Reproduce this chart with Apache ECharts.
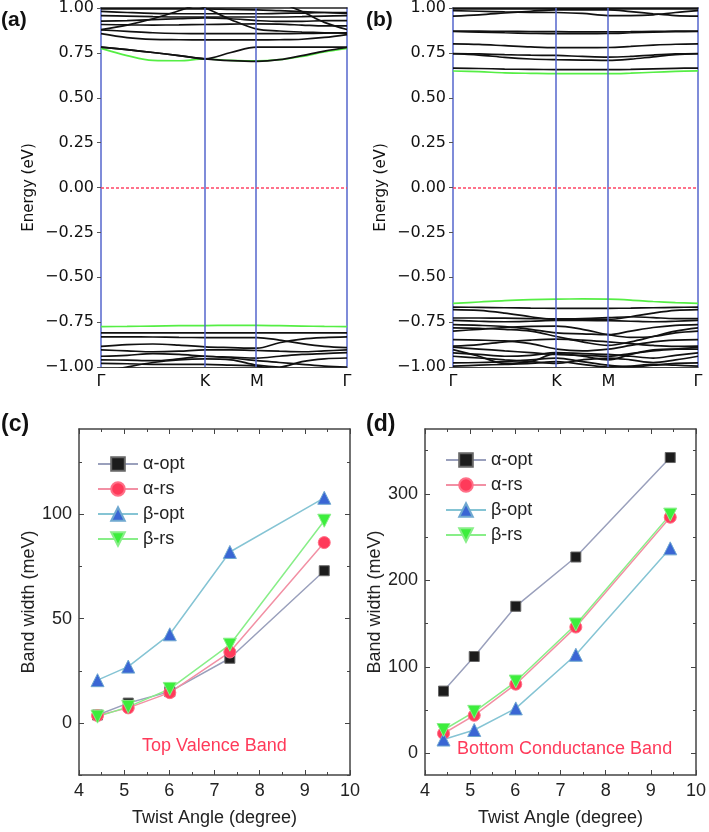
<!DOCTYPE html>
<html><head><meta charset="utf-8">
<script src="https://cdn.jsdelivr.net/npm/echarts@6/dist/echarts.min.js"></script>
<style>html,body{margin:0;padding:0;background:#fff}#c{width:709px;height:832px}</style>
</head><body><div id="c"></div>
<script>
// ---- k-path (fraction of Γ-K-M-Γ path) ----
const kPath = [0, 0.106, 0.211, 0.317, 0.4226, 0.528, 0.634, 0.725, 0.817, 0.908, 1.0];
const kTicks = [0, 0.4226, 0.634, 1];
const kLabels = ['Γ', 'K', 'M', 'Γ'];

// ---- panel (a) bands (eV) ----
const aGreenCB = [0.775, 0.735, 0.708, 0.706, 0.716, 0.708, 0.705, 0.712, 0.73, 0.755, 0.775];
const aGreenVB = [-0.775, -0.774, -0.772, -0.770, -0.769, -0.768, -0.768, -0.770, -0.772, -0.774, -0.775];
const aCB1 = [0.782, 0.768, 0.752, 0.735, 0.717, 0.707, 0.703, 0.712, 0.735, 0.76, 0.78];
const aCB2 = [0.782, 0.768, 0.752, 0.735, 0.717, 0.752, 0.782, 0.782, 0.782, 0.782, 0.782];
const aCB3 = [0.857, 0.835, 0.825, 0.823, 0.822, 0.822, 0.822, 0.823, 0.826, 0.836, 0.852];
const aCB4 = [0.878, 0.87, 0.862, 0.858, 0.857, 0.857, 0.857, 0.857, 0.858, 0.86, 0.862];
const aCB5 = [0.88, 0.905, 0.94, 0.985, 1.03, 1.05, 1.05, 1.05, 1.05, 1.05, 1.05];
const aCB6 = [1.05, 1.05, 1.05, 1.04, 1.0, 0.935, 0.882, 0.872, 0.866, 0.862, 0.86];
const aCB7 = [1.05, 1.05, 1.05, 1.05, 1.05, 1.05, 1.05, 1.03, 0.98, 0.92, 0.88];
const aCB8 = [0.908, 0.906, 0.905, 0.906, 0.908, 0.91, 0.912, 0.91, 0.905, 0.9, 0.9];
const aCB9 = [0.927, 0.93, 0.935, 0.94, 0.945, 0.94, 0.93, 0.925, 0.925, 0.93, 0.93];
const aCB10 = [0.958, 0.955, 0.952, 0.95, 0.95, 0.95, 0.95, 0.95, 0.952, 0.955, 0.958];
const aCB11 = [0.981, 0.975, 0.97, 0.968, 0.968, 0.968, 0.968, 0.97, 0.972, 0.975, 0.975];
const aCB12 = [0.995, 0.995, 0.995, 0.995, 0.995, 0.992, 0.99, 0.985, 0.98, 0.975, 0.97];
const aVB1 = [-0.81, -0.81, -0.81, -0.81, -0.81, -0.81, -0.81, -0.81, -0.81, -0.81, -0.81];
const aVB2 = [-0.832, -0.832, -0.833, -0.835, -0.836, -0.836, -0.836, -0.85, -0.87, -0.885, -0.892];
const aVB3 = [-0.885, -0.875, -0.872, -0.878, -0.888, -0.892, -0.895, -0.865, -0.845, -0.836, -0.832];
const aVB4 = [-0.905, -0.91, -0.915, -0.912, -0.905, -0.905, -0.908, -0.912, -0.915, -0.91, -0.905];
const aVB5 = [-0.94, -0.935, -0.925, -0.93, -0.94, -0.945, -0.95, -0.94, -0.93, -0.925, -0.92];
const aVB6 = [-0.96, -0.962, -0.965, -0.955, -0.94, -0.95, -0.965, -0.975, -0.985, -0.995, -1.0];
const aVB7 = [-1.03, -1.0, -0.975, -0.96, -0.955, -0.96, -0.99, -1.0, -0.97, -0.955, -0.95];
const aVB8 = [-0.98, -0.982, -0.985, -0.985, -0.985, -0.99, -0.995, -1.02, -1.04, -1.05, -1.05];

// ---- panel (b) bands (eV) ----
const bGreenCB = [0.649, 0.645, 0.639, 0.636, 0.634, 0.634, 0.634, 0.637, 0.642, 0.647, 0.65];
const bGreenVB = [-0.645, -0.638, -0.63, -0.625, -0.622, -0.621, -0.622, -0.627, -0.635, -0.641, -0.645];
const bCB1 = [0.665, 0.663, 0.66, 0.658, 0.657, 0.657, 0.657, 0.658, 0.661, 0.664, 0.665];
const bCB2 = [0.745, 0.738, 0.725, 0.716, 0.712, 0.71, 0.708, 0.715, 0.728, 0.74, 0.745];
const bCB3 = [0.746, 0.744, 0.74, 0.737, 0.736, 0.73, 0.726, 0.73, 0.738, 0.744, 0.746];
const bCB4 = [0.80, 0.797, 0.79, 0.783, 0.779, 0.779, 0.78, 0.786, 0.793, 0.798, 0.80];
const bCB5 = [0.869, 0.866, 0.862, 0.859, 0.857, 0.857, 0.858, 0.862, 0.866, 0.868, 0.869];
const bCB6 = [0.872, 0.871, 0.87, 0.869, 0.868, 0.867, 0.867, 0.868, 0.87, 0.871, 0.872];
const bCB7 = [0.955, 0.962, 0.972, 0.982, 0.99, 0.99, 0.99, 0.98, 0.968, 0.958, 0.955];
const bCB8 = [0.985, 0.982, 0.978, 0.976, 0.975, 0.97, 0.958, 0.958, 0.962, 0.975, 0.985];
const bCB9 = [0.995, 0.995, 0.995, 0.995, 0.995, 0.995, 0.995, 0.995, 0.995, 0.995, 0.995];
const bVB1 = [-0.666, -0.668, -0.67, -0.672, -0.673, -0.673, -0.673, -0.672, -0.67, -0.668, -0.666];
const bVB2 = [-0.68, -0.685, -0.7, -0.72, -0.735, -0.735, -0.735, -0.72, -0.7, -0.685, -0.68];
const bVB3 = [-0.727, -0.727, -0.728, -0.73, -0.732, -0.73, -0.725, -0.72, -0.725, -0.73, -0.73];
const bVB4 = [-0.74, -0.745, -0.748, -0.745, -0.74, -0.74, -0.742, -0.745, -0.748, -0.745, -0.74];
const bVB5 = [-0.80, -0.79, -0.78, -0.774, -0.772, -0.79, -0.82, -0.835, -0.83, -0.81, -0.80];
const bVB6 = [-0.764, -0.768, -0.775, -0.79, -0.81, -0.815, -0.82, -0.8, -0.78, -0.768, -0.764];
const bVB7 = [-0.782, -0.785, -0.79, -0.8, -0.83, -0.86, -0.88, -0.86, -0.83, -0.8, -0.782];
const bVB8 = [-0.847, -0.85, -0.855, -0.87, -0.9, -0.91, -0.9, -0.88, -0.86, -0.85, -0.847];
const bVB9 = [-0.884, -0.875, -0.86, -0.85, -0.845, -0.85, -0.86, -0.87, -0.88, -0.885, -0.884];
const bVB10 = [-0.903, -0.94, -0.98, -0.97, -0.925, -0.94, -0.96, -0.93, -0.905, -0.9, -0.9];
const bVB11 = [-0.921, -0.93, -0.94, -0.935, -0.92, -0.925, -0.93, -0.94, -0.95, -0.935, -0.921];
const bVB12 = [-0.94, -0.95, -0.96, -0.97, -0.98, -0.96, -0.95, -0.96, -0.975, -0.96, -0.94];
const bVB13 = [-0.977, -0.975, -0.97, -0.96, -0.95, -0.97, -0.99, -1.0, -0.99, -0.98, -0.977];
const bVB14 = [-0.995, -0.99, -0.985, -0.98, -0.97, -0.985, -1.0, -0.995, -0.985, -0.99, -0.995];
const bVB15 = [-0.89, -0.9, -0.91, -0.92, -0.93, -0.935, -0.94, -0.925, -0.91, -0.9, -0.89];

// ---- panels (c),(d): band width vs twist angle ----
const twistAngle = [4.41, 5.09, 6.01, 7.34, 9.43];
const seriesNames = ['α-opt', 'α-rs', 'β-opt', 'β-rs'];
const tvbAlphaOpt = [3.8, 9.5, 15, 31, 73];
const tvbAlphaRs = [3.5, 7.2, 14.5, 34, 86.5];
const tvbBetaOpt = [20.5, 27, 42.5, 82, 108];
const tvbBetaRs = [3, 7.7, 16.3, 37.5, 97];
const bcbAlphaOpt = [72, 112, 170, 227, 342];
const bcbAlphaRs = [23, 44, 80, 146, 273];
const bcbBetaOpt = [16, 27, 52, 114, 237];
const bcbBetaRs = [27, 48, 83, 149, 276];
const cMajorTicks = [0, 50, 100];
const cMinorTicks = [-25, 25, 75, 125];
const dMajorTicks = [0, 100, 200, 300];
const dMinorTicks = [50, 150, 250, 350];

const chart = echarts.init(document.getElementById('c'));
const FONT_A = 'DejaVu Sans';
const FONT_C = 'Liberation Sans';
const BLUE = '#5566cc';

function eFmt(v) { return (v < 0 ? '\u2212' : '') + Math.abs(v).toFixed(2); }
function kFmt(v) { const i = kTicks.findIndex(t => Math.abs(t - v) < 1e-6); return i >= 0 ? kLabels[i] : ''; }

function bandXAxes(grid) {
  return [
    { type: 'value', gridIndex: grid, min: 0, max: 1, position: 'bottom',
      axisLine: { onZero: false, lineStyle: { color: '#444', width: 1.2 } },
      axisTick: { show: false }, splitLine: { show: false },
      axisLabel: { customValues: kTicks, formatter: kFmt, showMinLabel: true, showMaxLabel: true,
        margin: 7, fontSize: 16, color: '#111', fontFamily: FONT_A } },
    { type: 'value', gridIndex: grid, min: 0, max: 1, position: 'top',
      axisLine: { onZero: false, lineStyle: { color: '#222', width: 1.5 } },
      axisTick: { show: false }, axisLabel: { show: false }, splitLine: { show: false } }
  ];
}
function bandYAxes(grid) {
  return [
    { type: 'value', gridIndex: grid, min: -1, max: 1, interval: 0.25, position: 'left',
      name: 'Energy (eV)', nameLocation: 'middle', nameGap: 64,
      nameTextStyle: { fontSize: 15, color: '#111', fontFamily: FONT_A },
      axisLine: { show: true, onZero: false, lineStyle: { color: BLUE, width: 1.5 } },
      axisTick: { show: true, inside: false, length: 4, lineStyle: { color: '#555' } },
      splitLine: { show: false },
      axisLabel: { formatter: eFmt, margin: 7, fontSize: 16, color: '#111', fontFamily: FONT_A } },
    { type: 'value', gridIndex: grid, min: -1, max: 1, position: 'right',
      axisLine: { show: true, onZero: false, lineStyle: { color: BLUE, width: 1.5 } },
      axisTick: { show: false }, axisLabel: { show: false }, splitLine: { show: false } }
  ];
}
function bandSeries(arr, xi, yi, color, z) {
  return { type: 'line', xAxisIndex: xi, yAxisIndex: yi, data: kPath.map((k, i) => [k, arr[i]]),
    smooth: 0.35, showSymbol: false, silent: true, z: z || 2,
    lineStyle: { color: color || '#111', width: 1.7 } };
}
function guideSeries(xi, yi) {
  return { type: 'line', xAxisIndex: xi, yAxisIndex: yi, data: [], silent: true, z: 4,
    markLine: { silent: true, symbol: 'none', label: { show: false }, animation: false,
      data: [
        { xAxis: kTicks[1], lineStyle: { color: BLUE, width: 1.5, type: 'solid' } },
        { xAxis: kTicks[2], lineStyle: { color: BLUE, width: 1.5, type: 'solid' } },
        { yAxis: 0, lineStyle: { color: '#ff4466', width: 1.5, type: [3, 2] } }
      ] } };
}

function lineXAxes(grid) {
  const common = { type: 'value', gridIndex: grid, min: 4, max: 10, interval: 1, splitLine: { show: false },
    axisLine: { onZero: false, lineStyle: { color: '#444', width: 1.5 } },
    axisTick: { inside: true, length: 5, lineStyle: { color: '#444' } },
    minorTick: { show: true, splitNumber: 2, length: 3, lineStyle: { color: '#444' } } };
  return [
    Object.assign({}, common, { position: 'bottom', name: 'Twist Angle (degree)', nameLocation: 'middle', nameGap: 34,
      nameTextStyle: { fontSize: 18, color: '#222', fontFamily: FONT_C },
      axisLabel: { margin: 7, fontSize: 18, color: '#222', fontFamily: FONT_C } }),
    Object.assign({}, common, { position: 'top', axisLabel: { show: false } })
  ];
}
function lineYAxes(grid, min, max, major, minor, gap) {
  const base = { type: 'value', gridIndex: grid, min: min, max: max, splitLine: { show: false } };
  return [
    Object.assign({}, base, { position: 'left', name: 'Band width (meV)', nameLocation: 'middle', nameGap: gap,
      nameTextStyle: { fontSize: 18, color: '#222', fontFamily: FONT_C },
      axisLine: { show: true, onZero: false, lineStyle: { color: '#444', width: 1.5 } },
      axisTick: { show: true, inside: true, length: 5, customValues: major, lineStyle: { color: '#444' } },
      axisLabel: { customValues: major, margin: 7, fontSize: 18, color: '#222', fontFamily: FONT_C } }),
    Object.assign({}, base, { position: 'left',
      axisLine: { show: false, onZero: false }, axisLabel: { show: false },
      axisTick: { show: true, inside: true, length: 3, customValues: minor, lineStyle: { color: '#444' } } }),
    Object.assign({}, base, { position: 'right',
      axisLine: { show: true, onZero: false, lineStyle: { color: '#444', width: 1.5 } }, axisLabel: { show: false },
      axisTick: { show: true, inside: true, length: 5, customValues: major, lineStyle: { color: '#444' } } }),
    Object.assign({}, base, { position: 'right',
      axisLine: { show: false, onZero: false }, axisLabel: { show: false },
      axisTick: { show: true, inside: true, length: 3, customValues: minor, lineStyle: { color: '#444' } } })
  ];
}
const lineStyles = [
  { line: '#9aa0bc', fill: '#1c1c1c', border: '#666', symbol: 'rect', size: 10, rot: 0 },
  { line: '#f290a4', fill: '#ff3a5a', border: '#ff7088', symbol: 'circle', size: 12, rot: 0 },
  { line: '#85c4d4', fill: '#3a66d4', border: '#6fa8d0', symbol: 'triangle', size: 13, rot: 0 },
  { line: '#88ee88', fill: '#3cee3c', border: '#88ee88', symbol: 'triangle', size: 13, rot: 180 }
];
function lineSeries(name, vals, xi, yi, st) {
  return { type: 'line', name: name, xAxisIndex: xi, yAxisIndex: yi,
    data: twistAngle.map((x, i) => [x, vals[i]]),
    symbol: st.symbol, symbolSize: st.size, symbolRotate: st.rot, showSymbol: true,
    lineStyle: { color: st.line, width: 1.5 },
    itemStyle: { color: st.fill, borderColor: st.border, borderWidth: 1 } };
}

const aBlack = [aCB1, aCB2, aCB3, aCB4, aCB5, aCB6, aCB7, aCB8, aCB9, aCB10, aCB11, aCB12,
  aVB1, aVB2, aVB3, aVB4, aVB5, aVB6, aVB7, aVB8];
const bBlack = [bCB1, bCB2, bCB3, bCB4, bCB5, bCB6, bCB7, bCB8, bCB9,
  bVB1, bVB2, bVB3, bVB4, bVB5, bVB6, bVB7, bVB8, bVB9, bVB10, bVB11, bVB12, bVB13, bVB14, bVB15];

const series = [];
series.push(guideSeries(0, 0));
series.push(bandSeries(aGreenCB, 0, 0, '#55ee44', 2));
series.push(bandSeries(aGreenVB, 0, 0, '#55ee44', 2));
aBlack.forEach(b => series.push(bandSeries(b, 0, 0, '#111', 3)));
series.push(guideSeries(2, 2));
series.push(bandSeries(bGreenCB, 2, 2, '#55ee44', 2));
series.push(bandSeries(bGreenVB, 2, 2, '#55ee44', 2));
bBlack.forEach(b => series.push(bandSeries(b, 2, 2, '#111', 3)));

const tvb = [tvbAlphaOpt, tvbAlphaRs, tvbBetaOpt, tvbBetaRs];
const bcb = [bcbAlphaOpt, bcbAlphaRs, bcbBetaOpt, bcbBetaRs];
tvb.forEach((v, i) => series.push(lineSeries(seriesNames[i], v, 4, 4, lineStyles[i])));
bcb.forEach((v, i) => series.push(lineSeries(seriesNames[i], v, 6, 8, lineStyles[i])));

const legendCommon = { orient: 'vertical', itemWidth: 40, itemHeight: 17, itemGap: 7,
  selectedMode: false, data: seriesNames,
  textStyle: { fontSize: 18, lineHeight: 18, color: '#222', fontFamily: FONT_C } };

chart.setOption({
  animation: false,
  backgroundColor: '#fff',
  grid: [
    { left: 101, top: 8, width: 246, height: 359 },
    { left: 453, top: 8, width: 245, height: 359 },
    { left: 79, top: 429, width: 271, height: 346 },
    { left: 425, top: 429, width: 272, height: 346 }
  ],
  xAxis: [].concat(bandXAxes(0), bandXAxes(1), lineXAxes(2), lineXAxes(3)),
  yAxis: [].concat(bandYAxes(0), bandYAxes(1),
    lineYAxes(2, -25, 141, cMajorTicks, cMinorTicks, 40),
    lineYAxes(3, -25, 375, dMajorTicks, dMinorTicks, 40)),
  legend: [
    Object.assign({ left: 92, top: 450 }, legendCommon),
    Object.assign({ left: 440, top: 446 }, legendCommon)
  ],
  graphic: [
    { type: 'text', left: 1, top: 10, style: { text: '(a)', font: 'bold 21px "Liberation Sans"', fill: '#111' } },
    { type: 'text', left: 366, top: 10, style: { text: '(b)', font: 'bold 21px "Liberation Sans"', fill: '#111' } },
    { type: 'text', left: 1, top: 413, style: { text: '(c)', font: 'bold 23px "Liberation Sans"', fill: '#111' } },
    { type: 'text', left: 366, top: 413, style: { text: '(d)', font: 'bold 23px "Liberation Sans"', fill: '#111' } },
    { type: 'text', left: 142, top: 737, style: { text: 'Top Valence Band', font: '18px "Liberation Sans"', fill: '#ff3a5a' } },
    { type: 'text', left: 457, top: 740, style: { text: 'Bottom Conductance Band', font: '18px "Liberation Sans"', fill: '#ff3a5a' } }
  ],
  series: series
});
</script></body></html>
